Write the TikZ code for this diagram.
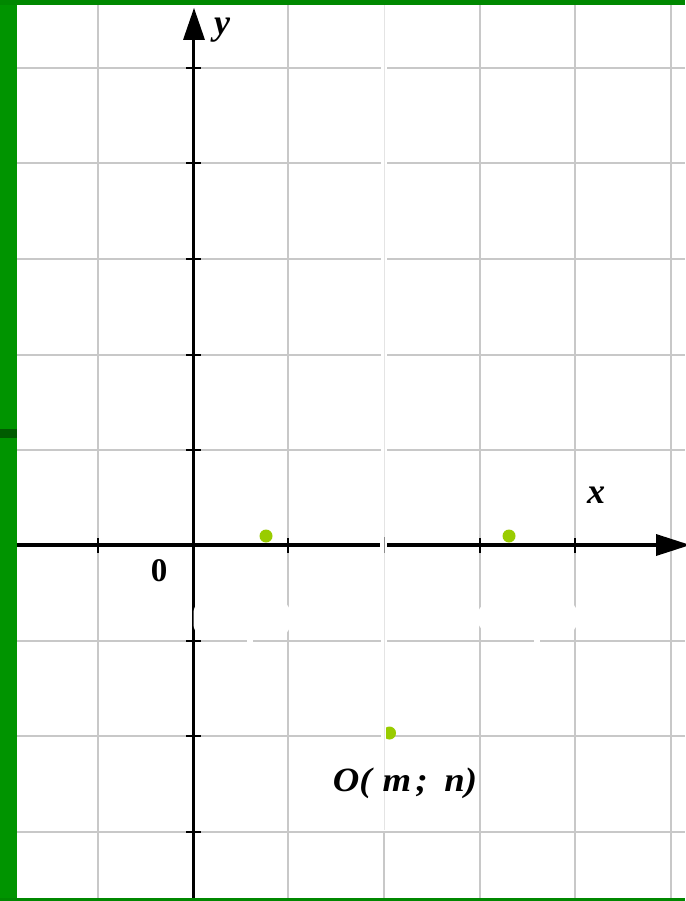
\documentclass[tikz,border=0pt]{standalone}
\usepackage{fontspec}
\setmainfont{Liberation Serif}
\definecolor{bargreen}{RGB}{0,148,0}
\definecolor{topgreen}{RGB}{0,136,0}
\definecolor{markgreen}{RGB}{0,92,0}
\definecolor{gridgray}{RGB}{200,200,200}
\definecolor{faintgray}{RGB}{228,228,228}
\definecolor{dotgreen}{RGB}{153,204,0}
\tikzset{
  gridline/.style={draw=gridgray, line width=2pt},
  axisline/.style={draw=black, line width=3.5pt},
  ticmark/.style={draw=black, line width=2pt},
  pointdot/.style={circle, fill=dotgreen, inner sep=0pt, minimum size=13pt},
  axlabel/.style={font=\fontsize{36}{40}\selectfont\bfseries\itshape, inner sep=0pt},
  whitepatch/.style={fill=white, draw=none},
}
\begin{document}
\begin{tikzpicture}[x=1pt, y=-1pt]
\useasboundingbox (0,0) rectangle (685,901);
\fill[white] (0,0) rectangle (685,901);
% grid
\foreach \gx in {98,288,480,575,671} \draw[gridline] (\gx,5) -- (\gx,898);
\foreach \gy in {68,163,259,355,450,641,736,832} \draw[gridline] (17,\gy) -- (685,\gy);
\draw[gridline] (384,832) -- (384,898);
% white band at x=384
\fill[white] (381,5) rectangle (387,830);
\draw[faintgray, line width=1pt] (384,5) -- (384,830);
% axes
\coordinate (ybot) at (193.5,898);
\coordinate (ytop) at (193.5,38);
\coordinate (xleft) at (17,545);
\coordinate (xright) at (657,545);
\draw[axisline] (ybot) -- (ytop);
\draw[axisline] (xleft) -- (xright);
\fill[black] (183,40) -- (205,40) -- (194,8) -- cycle;
\fill[black] (656,534) -- (656,556) -- (690,545) -- cycle;
% gap in x-axis
\fill[white] (380,542) rectangle (387,549);
\draw[gridgray!70!black, line width=1pt] (384,537) -- (384,553);
% ticks
\foreach \gy in {68,163,259,355,450,641,736,832} \draw[ticmark] (186,\gy) -- (201,\gy);
\foreach \gx in {98,288,480,575} \draw[ticmark, line width=1.5pt] (\gx,538) -- (\gx,553);
% white patches
\fill[whitepatch, rounded corners=14pt] (193.5,599) rectangle (290,638);
\fill[whitepatch, rounded corners=14pt] (478,601) rectangle (578,634);
\fill[white] (247,639) rectangle (253,643);
\fill[white] (534,639) rectangle (540,643);
% labels
\node[axlabel] (ylab) at (222,30) {y};
\node[axlabel] (xlab) at (596,495) {x};
\node[font=\fontsize{33}{36}\selectfont\bfseries, inner sep=0pt] (zero) at (159,571) {0};
% points
\node[pointdot] (p1) at (266,536) {};
\node[pointdot] (p2) at (509,536) {};
\node[pointdot] (p3) at (389.5,733) {};
\fill[white] (381,726) rectangle (386,741);
\draw[faintgray, line width=1pt] (384,726) -- (384,741);
\node[font=\fontsize{34}{38}\selectfont\bfseries\itshape, inner sep=0pt, xscale=1.08] (plab) at (405,783) {O(\hspace{0.3em}m\hspace{0.12em};\hspace{0.45em}n)};
% green frame
\fill[bargreen] (0,0) rectangle (17,901);
\fill[markgreen] (0,429) rectangle (17,438);
\fill[topgreen] (0,0) rectangle (685,5);
\fill[topgreen] (0,898) rectangle (685,901);
\end{tikzpicture}
\end{document}
